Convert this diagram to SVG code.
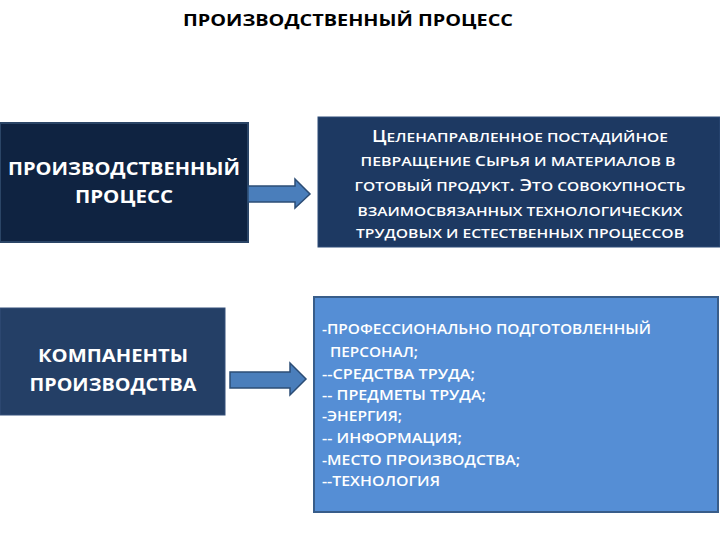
<svg xmlns="http://www.w3.org/2000/svg" width="720" height="540" viewBox="0 0 720 540">
<style>
.t{font-family:"Open Sans","Liberation Sans",sans-serif;fill:#fff;font-weight:bold}
.title{font-family:"Open Sans","Liberation Sans",sans-serif;fill:#000;font-weight:bold;font-size:16px}
.big{font-size:18px}
.mid{font-size:13px;font-weight:600}
.lst{font-size:13.5px;font-weight:600}
.arrow{fill:#4a7ebb;stroke:#2c4d75;stroke-width:1.5}
</style>
<rect width="720" height="540" fill="#fff"/>
<text class="title" x="348" y="26" text-anchor="middle" textLength="330" lengthAdjust="spacingAndGlyphs">ПРОИЗВОДСТВЕННЫЙ ПРОЦЕСС</text>
<g id="node-process">
<rect x="0" y="123" width="248" height="119" fill="#0f2341" stroke="#2b4566" stroke-width="2"/>
<text class="t big" x="124" y="175" text-anchor="middle" textLength="232" lengthAdjust="spacingAndGlyphs">ПРОИЗВОДСТВЕННЫЙ</text>
<text class="t big" x="124" y="203" text-anchor="middle" textLength="98" lengthAdjust="spacingAndGlyphs">ПРОЦЕСС</text>
</g>
<g id="node-definition">
<rect x="318" y="117" width="402" height="130" fill="#1d3962" stroke="#2e4d78" stroke-width="1"/>
<text class="t mid" x="520" y="142" text-anchor="middle" textLength="296" lengthAdjust="spacingAndGlyphs"><tspan font-size="16">Ц</tspan>ЕЛЕНАПРАВЛЕННОЕ ПОСТАДИЙНОЕ</text>
<text class="t mid" x="518" y="166" text-anchor="middle" textLength="315" lengthAdjust="spacingAndGlyphs">ПЕВРАЩЕНИЕ <tspan font-size="14">С</tspan>ЫРЬЯ И МАТЕРИАЛОВ В</text>
<text class="t mid" x="520" y="191" text-anchor="middle" textLength="331" lengthAdjust="spacingAndGlyphs">ГОТОВЫЙ ПРОДУКТ<tspan font-size="16">. Э</tspan>ТО СОВОКУПНОСТЬ</text>
<text class="t mid" x="520" y="216" text-anchor="middle" textLength="325" lengthAdjust="spacingAndGlyphs">ВЗАИМОСВЯЗАННЫХ  ТЕХНОЛОГИЧЕСКИХ</text>
<text class="t mid" x="520" y="238" text-anchor="middle" textLength="328" lengthAdjust="spacingAndGlyphs">ТРУДОВЫХ И ЕСТЕСТВЕННЫХ ПРОЦЕССОВ</text>
</g>
<g id="node-components">
<rect x="0" y="308" width="225" height="107" fill="#243f66" stroke="#34507a" stroke-width="1"/>
<text class="t big" x="113" y="362" text-anchor="middle" textLength="150" lengthAdjust="spacingAndGlyphs">КОМПАНЕНТЫ</text>
<text class="t big" x="113" y="391" text-anchor="middle" textLength="167" lengthAdjust="spacingAndGlyphs">ПРОИЗВОДСТВА</text>
</g>
<g id="node-list">
<rect x="314" y="297" width="404" height="215" fill="#558ed5" stroke="#385d8a" stroke-width="2"/>
<text class="t lst" x="322" y="334" textLength="329" lengthAdjust="spacingAndGlyphs">-ПРОФЕССИОНАЛЬНО ПОДГОТОВЛЕННЫЙ</text>
<text class="t lst" x="330" y="357" textLength="88" lengthAdjust="spacingAndGlyphs">ПЕРСОНАЛ;</text>
<text class="t lst" x="322" y="379" textLength="153" lengthAdjust="spacingAndGlyphs">--СРЕДСТВА ТРУДА;</text>
<text class="t lst" x="322" y="400" textLength="164" lengthAdjust="spacingAndGlyphs">-- ПРЕДМЕТЫ ТРУДА;</text>
<text class="t lst" x="322" y="421" textLength="80" lengthAdjust="spacingAndGlyphs">-ЭНЕРГИЯ;</text>
<text class="t lst" x="322" y="443" textLength="140" lengthAdjust="spacingAndGlyphs">-- ИНФОРМАЦИЯ;</text>
<text class="t lst" x="322" y="465" textLength="198" lengthAdjust="spacingAndGlyphs">-МЕСТО ПРОИЗВОДСТВА;</text>
<text class="t lst" x="322" y="486" textLength="118" lengthAdjust="spacingAndGlyphs">--ТЕХНОЛОГИЯ</text>
</g>
<g id="connectors">
<polygon class="arrow" points="248,186 295,186 295,179 310,194 295,208 295,202 248,202"/>
<polygon class="arrow" points="230,372 290,372 290,363 306,379 290,395 290,388 230,388"/>
</g>
</svg>
